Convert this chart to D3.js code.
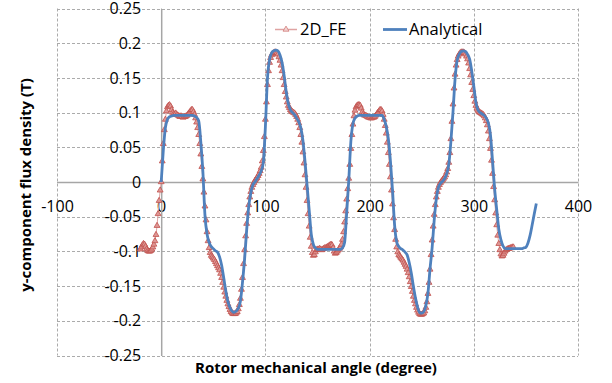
<!DOCTYPE html>
<html>
<head>
<meta charset="utf-8">
<script src="https://cdn.jsdelivr.net/npm/d3@7"></script>
<style>
  body { margin: 0; background: #fff; }
  svg { display: block; font-family: "Open Sans", sans-serif; }
</style>
</head>
<body>
<div id="chart-area"></div>
<script>
// Axis ticks
const xTicks = [-100, 0, 100, 200, 300, 400]
const xTickLabels = ["-100", "0", "100", "200", "300", "400"]
const yTicks = [-0.25, -0.2, -0.15, -0.1, -0.05, 0, 0.05, 0.1, 0.15, 0.2, 0.25]
const yTickLabels = ["-0.25", "-0.2", "-0.15", "-0.1", "-0.05", "0", "0.05", "0.1", "0.15", "0.2", "0.25"]

// 2D_FE series, one sample per degree from -20 to 338
const feStart = -20
const feStep = 1
const feValues = [
  -0.097, -0.094, -0.091, -0.089, -0.090, -0.093, -0.097, -0.099, -0.100, -0.100, // -20..-11
  -0.099, -0.097, -0.094, -0.090, -0.085, -0.076, -0.063, -0.046, -0.027, -0.012, // -10..-1
  0.000, 0.030, 0.055, 0.075, 0.090, 0.102, 0.108, 0.110, 0.111, 0.109,           // 0..9
  0.104, 0.100, 0.098, 0.097, 0.099, 0.097, 0.096, 0.095, 0.094, 0.095,           // 10..19
  0.094, 0.093, 0.094, 0.094, 0.095, 0.096, 0.098, 0.100, 0.102, 0.104,           // 20..29
  0.104, 0.101, 0.097, 0.092, 0.086, 0.078, 0.068, 0.055, 0.040, 0.022,           // 30..39
  0.004, -0.015, -0.035, -0.055, -0.072, -0.085, -0.095, -0.102, -0.106, -0.108,  // 40..49
  -0.110, -0.112, -0.115, -0.118, -0.121, -0.124, -0.127, -0.132, -0.138, -0.145, // 50..59
  -0.152, -0.159, -0.165, -0.171, -0.176, -0.180, -0.184, -0.187, -0.189, -0.190, // 60..69
  -0.190, -0.190, -0.189, -0.187, -0.183, -0.177, -0.168, -0.155, -0.138, -0.118, // 70..79
  -0.098, -0.078, -0.060, -0.045, -0.033, -0.022, -0.014, -0.008, -0.004, -0.001, // 80..89
  0.002, 0.004, 0.006, 0.009, 0.012, 0.016, 0.021, 0.030, 0.045, 0.065,           // 90..99
  0.090, 0.115, 0.140, 0.160, 0.172, 0.179, 0.183, 0.185, 0.186, 0.187,           // 100..109
  0.187, 0.186, 0.184, 0.180, 0.175, 0.168, 0.160, 0.150, 0.140, 0.130,           // 110..119
  0.122, 0.115, 0.110, 0.107, 0.104, 0.102, 0.101, 0.100, 0.099, 0.097,           // 120..129
  0.094, 0.090, 0.085, 0.078, 0.068, 0.057, 0.043, 0.027, 0.010, -0.008,          // 130..139
  -0.027, -0.046, -0.064, -0.080, -0.093, -0.102, -0.106, -0.105, -0.101, -0.098, // 140..149
  -0.097, -0.097, -0.096, -0.097, -0.098, -0.097, -0.096, -0.095, -0.095, -0.094, // 150..159
  -0.093, -0.092, -0.091, -0.090, -0.091, -0.095, -0.100, -0.103, -0.102, -0.100, // 160..169
  -0.098, -0.096, -0.094, -0.090, -0.083, -0.072, -0.058, -0.042, -0.025, -0.010, // 170..179
  0.005, 0.025, 0.048, 0.068, 0.083, 0.095, 0.103, 0.108, 0.110, 0.111,           // 180..189
  0.111, 0.110, 0.106, 0.101, 0.098, 0.096, 0.096, 0.095, 0.094, 0.093,           // 190..199
  0.093, 0.092, 0.092, 0.093, 0.093, 0.094, 0.096, 0.098, 0.100, 0.102,           // 200..209
  0.104, 0.104, 0.102, 0.097, 0.090, 0.081, 0.070, 0.057, 0.042, 0.025,           // 210..219
  0.007, -0.012, -0.032, -0.052, -0.069, -0.083, -0.094, -0.101, -0.105, -0.107,  // 220..229
  -0.109, -0.111, -0.113, -0.116, -0.119, -0.122, -0.126, -0.131, -0.137, -0.144, // 230..239
  -0.151, -0.158, -0.165, -0.171, -0.176, -0.181, -0.185, -0.188, -0.190, -0.191, // 240..249
  -0.191, -0.190, -0.189, -0.186, -0.181, -0.173, -0.161, -0.145, -0.126, -0.105, // 250..259
  -0.084, -0.064, -0.047, -0.033, -0.022, -0.014, -0.008, -0.004, -0.001, 0.001,  // 260..269
  0.003, 0.005, 0.007, 0.010, 0.014, 0.019, 0.028, 0.042, 0.062, 0.087,           // 270..279
  0.112, 0.135, 0.155, 0.168, 0.176, 0.181, 0.184, 0.186, 0.187, 0.187,           // 280..289
  0.187, 0.186, 0.184, 0.181, 0.177, 0.171, 0.163, 0.154, 0.143, 0.133,           // 290..299
  0.124, 0.116, 0.110, 0.106, 0.103, 0.101, 0.100, 0.099, 0.098, 0.097,           // 300..309
  0.095, 0.092, 0.088, 0.082, 0.073, 0.062, 0.048, 0.031, 0.012, -0.007,          // 310..319
  -0.026, -0.045, -0.062, -0.077, -0.089, -0.098, -0.104, -0.107, -0.106, -0.103, // 320..329
  -0.100, -0.098, -0.097, -0.096, -0.096, -0.095, -0.095, -0.094, -0.094          // 330..338
]

// Analytical series, one sample every 2 degrees from 0 to 360
const anStart = 0
const anStep = 2
const anValues = [
  0.000, 0.045, 0.078, 0.090, 0.094, 0.095, 0.096, 0.096, 0.096, 0.096,           // 0..18
  0.096, 0.096, 0.096, 0.096, 0.096, 0.096, 0.095, 0.093, 0.088, 0.058,           // 20..38
  0.015, -0.048, -0.075, -0.087, -0.093, -0.096, -0.099, -0.101, -0.108, -0.120,  // 40..58
  -0.138, -0.157, -0.172, -0.181, -0.186, -0.188, -0.186, -0.182, -0.172, -0.145, // 60..78
  -0.112, -0.070, -0.035, -0.016, -0.004, 0.000, 0.005, 0.010, 0.016, 0.028,      // 80..98
  0.080, 0.150, 0.177, 0.186, 0.189, 0.190, 0.189, 0.183, 0.172, 0.153,           // 100..118
  0.130, 0.113, 0.104, 0.100, 0.097, 0.092, 0.087, 0.078, 0.060, 0.030,           // 120..138
  -0.005, -0.040, -0.075, -0.090, -0.095, -0.097, -0.097, -0.097, -0.097, -0.097, // 140..158
  -0.097, -0.097, -0.097, -0.097, -0.097, -0.097, -0.097, -0.095, -0.087, -0.045, // 160..178
  0.002, 0.058, 0.084, 0.092, 0.095, 0.096, 0.096, 0.096, 0.096, 0.096,           // 180..198
  0.096, 0.096, 0.096, 0.096, 0.096, 0.096, 0.096, 0.090, 0.080, 0.062,           // 200..218
  0.030, -0.012, -0.062, -0.086, -0.093, -0.096, -0.098, -0.101, -0.105, -0.116,  // 220..238
  -0.131, -0.150, -0.167, -0.180, -0.188, -0.189, -0.187, -0.178, -0.160, -0.125, // 240..258
  -0.095, -0.055, -0.025, -0.008, -0.002, 0.001, 0.005, 0.012, 0.025, 0.058,      // 260..278
  0.100, 0.148, 0.175, 0.184, 0.188, 0.189, 0.188, 0.184, 0.177, 0.160,           // 280..298
  0.138, 0.115, 0.104, 0.100, 0.098, 0.096, 0.092, 0.085, 0.068, 0.030,           // 300..318
  -0.010, -0.040, -0.068, -0.083, -0.092, -0.096, -0.096, -0.096, -0.096, -0.096, // 320..338
  -0.096, -0.096, -0.096, -0.096, -0.095, -0.094, -0.088, -0.077, -0.062, -0.046, // 340..358
  -0.031                                                                          // 360
]

const feData = feValues.map((v, i) => ({ angle: feStart + i * feStep, b: v }))
const anData = anValues.map((v, i) => ({ angle: anStart + i * anStep, b: v }))

// Canvas
const W = 612
const H = 383
const PLOT = { LEFT: 57, RIGHT: 578, TOP: 8.5, BOTTOM: 355.5 }

const svg = d3.select("#chart-area").append("svg")
  .attr("width", W)
  .attr("height", H)

// Scales
const x = d3.scaleLinear()
  .domain([-100, 400])
  .range([PLOT.LEFT, PLOT.RIGHT])

const y = d3.scaleLinear()
  .domain([-0.25, 0.25])
  .range([PLOT.BOTTOM, PLOT.TOP])

// Gridlines
const grid = svg.append("g")
  .attr("stroke", "#ababab")
  .attr("stroke-width", 1)
  .attr("stroke-dasharray", "3,2")

grid.selectAll(".hgrid")
  .data(yTicks)
  .enter().append("line")
  .attr("class", "hgrid")
  .attr("x1", PLOT.LEFT)
  .attr("x2", PLOT.RIGHT)
  .attr("y1", d => Math.round(y(d)) + 0.5)
  .attr("y2", d => Math.round(y(d)) + 0.5)

grid.selectAll(".vgrid")
  .data(xTicks)
  .enter().append("line")
  .attr("class", "vgrid")
  .attr("x1", d => Math.round(x(d)) + 0.5)
  .attr("x2", d => Math.round(x(d)) + 0.5)
  .attr("y1", PLOT.TOP)
  .attr("y2", PLOT.BOTTOM)

// Axes crossing at zero
const xAxisCall = d3.axisBottom(x)
  .tickValues(xTicks)
  .tickFormat((d, i) => xTickLabels[i])
  .tickSize(0)
  .tickPadding(19)

const xAxis = svg.append("g")
  .attr("transform", `translate(0, ${y(0)})`)
  .call(xAxisCall)

const yAxisCall = d3.axisLeft(y)
  .tickValues(yTicks)
  .tickFormat((d, i) => yTickLabels[i])
  .tickSize(0)
  .tickPadding(20)

const yAxis = svg.append("g")
  .attr("transform", `translate(${x(0)}, 0)`)
  .call(yAxisCall)

;[xAxis, yAxis].forEach(a => {
  a.select(".domain").attr("stroke", "#a6a6a6").attr("stroke-width", 1.5)
  a.selectAll("text")
    .attr("font-family", "'Open Sans', sans-serif")
    .attr("font-size", "16px")
    .attr("fill", "#000")
})

// 2D_FE series
const feLine = d3.line()
  .x(d => x(d.angle))
  .y(d => y(d.b))

svg.append("path")
  .datum(feData)
  .attr("fill", "none")
  .attr("stroke", "#dfa3a2")
  .attr("stroke-width", 1)
  .attr("d", feLine)

const tri = d3.symbol().type(d3.symbolTriangle).size(15)

svg.append("g").selectAll("path")
  .data(feData)
  .enter().append("path")
  .attr("transform", d => `translate(${x(d.angle)}, ${y(d.b)})`)
  .attr("d", tri)
  .attr("fill", "#de9795")
  .attr("stroke", "#c0504d")
  .attr("stroke-width", 0.8)

// Analytical series
const anLine = d3.line()
  .curve(d3.curveMonotoneX)
  .x(d => x(d.angle))
  .y(d => y(d.b))

svg.append("path")
  .datum(anData)
  .attr("fill", "none")
  .attr("stroke", "#4f81bd")
  .attr("stroke-width", 2.8)
  .attr("stroke-linejoin", "round")
  .attr("d", anLine)

// Legend
const legend = svg.append("g")

legend.append("line")
  .attr("x1", 275).attr("x2", 297)
  .attr("y1", 29.5).attr("y2", 29.5)
  .attr("stroke", "#dfa3a2")
  .attr("stroke-width", 1.5)

legend.append("path")
  .attr("transform", "translate(286, 29.5)")
  .attr("d", tri)
  .attr("fill", "#f2d3d2")
  .attr("stroke", "#d27c7a")
  .attr("stroke-width", 0.8)

legend.append("text")
  .attr("x", 300)
  .attr("y", 29.5)
  .attr("dy", "0.35em")
  .attr("font-size", "16.5px")
  .text("2D_FE")

legend.append("line")
  .attr("x1", 383).attr("x2", 407)
  .attr("y1", 29.5).attr("y2", 29.5)
  .attr("stroke", "#4f81bd")
  .attr("stroke-width", 2.8)

legend.append("text")
  .attr("x", 409)
  .attr("y", 29.5)
  .attr("dy", "0.35em")
  .attr("font-size", "16.5px")
  .text("Analytical")

// Axis titles
svg.append("text")
  .attr("x", 316)
  .attr("y", 373)
  .attr("text-anchor", "middle")
  .attr("font-size", "15px")
  .attr("font-weight", "bold")
  .text("Rotor mechanical angle (degree)")

svg.append("text")
  .attr("transform", `translate(31, 185) rotate(-90)`)
  .attr("text-anchor", "middle")
  .attr("font-size", "15px")
  .attr("font-weight", "bold")
  .text("y-component flux density (T)")
</script>
</body>
</html>
